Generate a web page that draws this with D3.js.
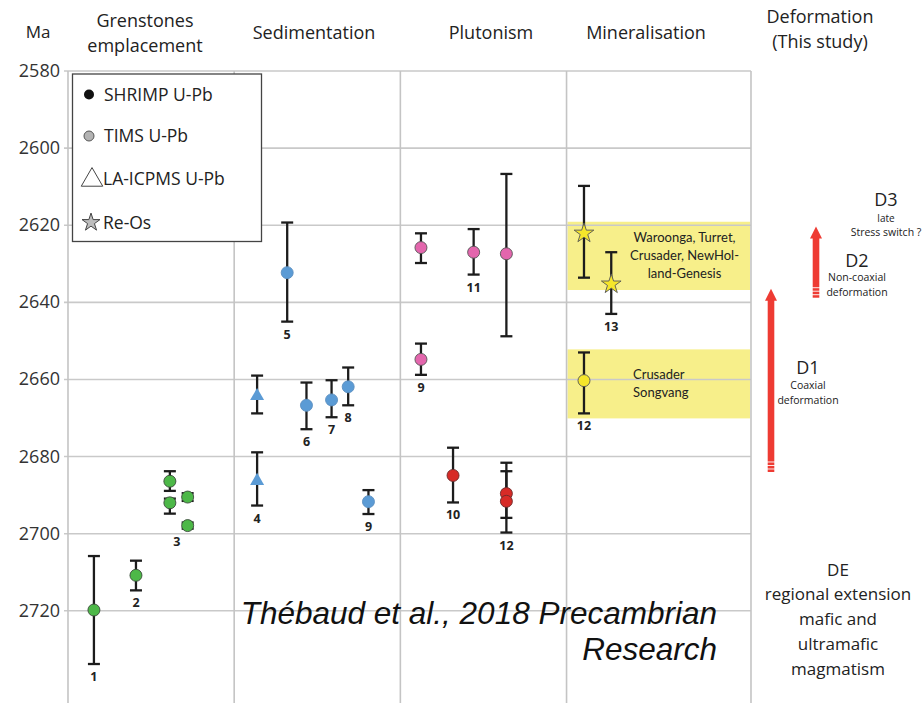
<!DOCTYPE html>
<html>
<head>
<meta charset="utf-8">
<script src="https://d3js.org/d3.v7.min.js"></script>
<style>
  body { margin: 0; background: #fff; }
  svg { display: block; }
  text { font-family: "Open Sans", "DejaVu Sans", sans-serif; fill: #222; }
</style>
</head>
<body>
<div id="chart"></div>
<script>
// y axis ticks (Ma)
var yTicks = [2580, 2600, 2620, 2640, 2660, 2680, 2700, 2720];

// column headers (one array of lines per column)
var headers = [["Grenstones", "emplacement"], ["Sedimentation"], ["Plutonism"], ["Mineralisation"], ["Deformation", "(This study)"]];
var colBounds = [0, 1, 2, 3, 4.11];

// each point: x in column units, age, error low / high
var greenstones = [
  { x: 0.156, age: 2719.8, lo: 14, hi: 14 },
  { x: 0.409, age: 2710.8, lo: 3.8, hi: 3.9 },
  { x: 0.613, age: 2686.4, lo: 2.6, hi: 2.5 },
  { x: 0.613, age: 2692.0, lo: 1.1, hi: 2.8 },
  { x: 0.720, age: 2690.5, lo: 1.0, hi: 1.0 },
  { x: 0.720, age: 2697.9, lo: 0.8, hi: 0.8 }
];
var sedTims = [
  { x: 1.319, age: 2632.3, lo: 13, hi: 12.7 },
  { x: 1.435, age: 2666.7, lo: 5.9, hi: 6.2 },
  { x: 1.586, age: 2665.3, lo: 5.1, hi: 4.5 },
  { x: 1.686, age: 2661.9, lo: 5.0, hi: 4.8 },
  { x: 1.808, age: 2691.7, lo: 3.0, hi: 3.2 }
];
var sedLa = [
  { x: 1.138, age: 2664.3, lo: 5.3, hi: 4.5 },
  { x: 1.138, age: 2686.3, lo: 7.4, hi: 6.4 }
];
var plutPink = [
  { x: 2.124, age: 2625.8, lo: 3.7, hi: 4.0 },
  { x: 2.124, age: 2654.8, lo: 4.1, hi: 4.0 },
  { x: 2.441, age: 2627.0, lo: 6.0, hi: 5.8 },
  { x: 2.638, age: 2627.4, lo: 20.7, hi: 21.4 }
];
var plutRed = [
  { x: 2.317, age: 2684.9, lo: 7.2, hi: 7.0 },
  { x: 2.638, age: 2689.6, lo: 8.0, hi: 6.3 },
  { x: 2.638, age: 2691.6, lo: 7.8, hi: 8.1 }
];
var minStars = [
  { x: 3.105, age: 2622.1, lo: 12.3, hi: 11.5 },
  { x: 3.269, age: 2635.3, lo: 8.3, hi: 7.7 }
];
var minCircle = [
  { x: 3.105, age: 2660.3, lo: 7.3, hi: 8.5 }
];

// sample numbers, anchored under their lowest error cap
var labels = [
  { t: "1", x: 0.156, age: 2733.8 }, { t: "2", x: 0.409, age: 2714.7 },
  { t: "3", x: 0.655, age: 2698.7 }, { t: "4", x: 1.138, age: 2692.7 },
  { t: "5", x: 1.319, age: 2645.0 }, { t: "6", x: 1.435, age: 2672.9 },
  { t: "7", x: 1.586, age: 2669.8 }, { t: "8", x: 1.686, age: 2666.7 },
  { t: "9", x: 1.808, age: 2694.9 }, { t: "9", x: 2.124, age: 2658.8 },
  { t: "10", x: 2.317, age: 2691.9 }, { t: "11", x: 2.441, age: 2632.8 },
  { t: "12", x: 2.638, age: 2699.7 }, { t: "13", x: 3.269, age: 2643.0 },
  { t: "12", x: 3.105, age: 2668.8 }
];

// mineralisation bands
var bands = [
  { from: 2619.1, to: 2636.8, lines: ["Waroonga, Turret,", "Crusader, NewHol-", "land-Genesis"], anchor: "middle", tx: 3.71 },
  { from: 2652.2, to: 2670.1, lines: ["Crusader", "Songvang"], anchor: "start", tx: 3.4 }
];

// deformation arrows (age of base, age of tip)
var arrows = [
  { name: "D1", from: 2684, to: 2636.5 },
  { name: "D2", from: 2638.8, to: 2620.3 }
];

var legendItems = ["SHRIMP U-Pb", "TIMS U-Pb", "LA-ICPMS U-Pb", "Re-Os"];

var W = 924, H = 703;
var left = 68, right = 751;

var svg = d3.select("#chart").append("svg").attr("width", W).attr("height", H);
svg.append("rect").attr("width", W).attr("height", H).attr("fill", "#fff");

var y = d3.scaleLinear().domain([2580, 2720]).range([71, 610.8]);
var x = d3.scaleLinear().domain([0, 4.11]).range([left, right]);

// yellow bands (under grid)
svg.selectAll(".band").data(bands).enter().append("rect")
  .attr("x", x(3) + 1).attr("width", x(4.11) - x(3) - 2)
  .attr("y", function(d) { return y(d.from); })
  .attr("height", function(d) { return y(d.to) - y(d.from); })
  .attr("fill", "#f7ef8a");

// grid
svg.append("g").selectAll("line").data(yTicks).enter().append("line")
  .attr("x1", left - 4).attr("x2", right)
  .attr("y1", function(d) { return y(d); }).attr("y2", function(d) { return y(d); })
  .attr("stroke", "#c9c9c9").attr("stroke-width", 1.6);
svg.append("g").selectAll("line").data(colBounds).enter().append("line")
  .attr("x1", function(d) { return x(d); }).attr("x2", function(d) { return x(d); })
  .attr("y1", y(2580)).attr("y2", H)
  .attr("stroke", "#c4c4c4").attr("stroke-width", 1.6);

// y tick labels
svg.append("g").selectAll("text").data(yTicks).enter().append("text")
  .attr("x", 60).attr("y", function(d) { return y(d) + 6; })
  .attr("text-anchor", "end").style("font-size", "18px").style("fill", "#333")
  .text(function(d) { return d; });

svg.append("text").attr("x", 38).attr("y", 38).attr("text-anchor", "middle")
  .style("font-size", "17px").text("Ma");

// headers
var hdrX = [145, 314, 491, 646, 820];
headers.forEach(function(lines, i) {
  var base = lines.length === 2 ? (i === 4 ? 23 : 27) : 39;
  lines.forEach(function(s, j) {
    svg.append("text").attr("x", hdrX[i]).attr("y", base + j * 25)
      .attr("text-anchor", "middle").style("font-size", "18px").text(s);
  });
});

// band texts
bands.forEach(function(b) {
  var n = b.lines.length;
  var mid = (y(b.from) + y(b.to)) / 2;
  b.lines.forEach(function(s, j) {
    svg.append("text").attr("x", x(b.tx))
      .attr("y", mid + (j - (n - 1) / 2) * 18 + 4.5)
      .attr("text-anchor", b.anchor)
      .style("font-family", "Lato, 'Open Sans', sans-serif")
      .style("font-size", "13px").text(s);
  });
});

// error bars
function errBars(data) {
  var g = svg.append("g").attr("stroke", "#1c1c1c").attr("stroke-width", 2.3);
  data.forEach(function(d) {
    var cx = x(d.x), y1 = y(d.age - d.lo), y2 = y(d.age + d.hi);
    g.append("line").attr("x1", cx).attr("x2", cx).attr("y1", y1).attr("y2", y2);
    g.append("line").attr("x1", cx - 6).attr("x2", cx + 6).attr("y1", y1).attr("y2", y1);
    g.append("line").attr("x1", cx - 6).attr("x2", cx + 6).attr("y1", y2).attr("y2", y2);
  });
}
[greenstones, sedTims, sedLa, plutPink, plutRed, minStars, minCircle].forEach(errBars);

function circles(data, fill, stroke) {
  svg.append("g").selectAll("circle").data(data).enter().append("circle")
    .attr("cx", function(d) { return x(d.x); }).attr("cy", function(d) { return y(d.age); })
    .attr("r", 6).attr("fill", fill).attr("stroke", stroke).attr("stroke-width", 0.9);
}
function symbols(data, type, size, fill, stroke) {
  svg.append("g").selectAll("path").data(data).enter().append("path")
    .attr("d", d3.symbol().type(type).size(size))
    .attr("transform", function(d) { return "translate(" + x(d.x) + "," + y(d.age) + ")"; })
    .attr("fill", fill).attr("stroke", stroke).attr("stroke-width", 0.9);
}
circles(greenstones, "#4db848", "#3a4a3a");
circles(sedTims, "#5b9bd5", "#5b8fc0");
symbols(sedLa, d3.symbolTriangle, 85, "#5b9bd5", "none");
circles(plutPink, "#e366ad", "#555");
circles(plutRed, "#d72b27", "#6a2a2a");
symbols(minStars, d3.symbolStar, 120, "#f5e62a", "#555");
circles(minCircle, "#f5e62a", "#555");

// sample numbers
svg.append("g").selectAll("text").data(labels).enter().append("text")
  .attr("x", function(d) { return x(d.x); }).attr("y", function(d) { return y(d.age) + 17; })
  .attr("text-anchor", "middle").style("font-size", "12.5px").style("font-weight", "bold")
  .text(function(d) { return d.t; });

// legend
var lg = svg.append("g");
lg.append("rect").attr("x", 72.5).attr("y", 74).attr("width", 189).attr("height", 167.5)
  .attr("fill", "#fff").attr("stroke", "#444").attr("stroke-width", 1.3);
var lgY = [94.5, 136, 179, 222.5];
lg.append("circle").attr("cx", 89).attr("cy", lgY[0]).attr("r", 5).attr("fill", "#111");
lg.append("circle").attr("cx", 89).attr("cy", lgY[1]).attr("r", 5).attr("fill", "#b3b3b3").attr("stroke", "#555");
lg.append("path").attr("d", d3.symbol().type(d3.symbolTriangle).size(200))
  .attr("transform", "translate(92," + (lgY[2] + 1) + ")").attr("fill", "#fff").attr("stroke", "#444").attr("stroke-width", 1);
lg.append("path").attr("d", d3.symbol().type(d3.symbolStar).size(100))
  .attr("transform", "translate(91," + lgY[3] + ")").attr("fill", "#bdbdbd").attr("stroke", "#444").attr("stroke-width", 1);
lg.selectAll("text").data(legendItems).enter().append("text")
  .attr("x", function(d, i) { return i >= 2 ? 103 : 104; })
  .attr("y", function(d, i) { return lgY[i] + 6; })
  .style("font-size", "17.5px").text(function(d) { return d; });

// deformation arrows
var arrowX = [771, 816];
arrows.forEach(function(a, i) {
  var cx = arrowX[i], yb = y(a.from), yt = y(a.to);
  var g = svg.append("g");
  g.append("rect").attr("x", cx - 3.3).attr("width", 6.6).attr("y", yt + 10).attr("height", yb - yt - 10).attr("fill", "#ee3b33");
  g.append("path").attr("d", "M" + (cx - 6) + "," + (yt + 12) + "L" + cx + "," + yt + "L" + (cx + 6) + "," + (yt + 12) + "Z").attr("fill", "#ee3b33");
  [3, 6.5, 10].forEach(function(o) {
    g.append("line").attr("x1", cx - 4).attr("x2", cx + 4).attr("y1", yb - o).attr("y2", yb - o)
      .attr("stroke", "#fff").attr("stroke-width", 0.9);
  });
});

function block(lines, cx, y0, sizes) {
  lines.forEach(function(s, j) {
    svg.append("text").attr("x", cx).attr("y", y0[j]).attr("text-anchor", "middle")
      .style("font-size", sizes[j] + "px").text(s);
  });
}
block(["D3", "late", "Stress switch ?"], 886, [206, 222, 236], [18, 10, 10.5]);
block(["D2", "Non-coaxial", "deformation"], 857, [267, 281, 296], [18, 10.5, 10.5]);
block(["D1", "Coaxial", "deformation"], 808, [374, 389, 404], [18, 10.5, 10.5]);
block(["DE", "regional extension", "mafic and", "ultramafic", "magmatism"], 838,
  [576, 600, 625, 650, 675], [17, 17, 17, 17, 17]);

// citation
svg.append("text").attr("x", 717).attr("y", 624).attr("text-anchor", "end")
  .style("font-family", "'Liberation Sans', Arial, sans-serif").style("font-style", "italic")
  .style("font-size", "31.5px").style("fill", "#111").text("Thébaud et al., 2018 Precambrian");
svg.append("text").attr("x", 717).attr("y", 660).attr("text-anchor", "end")
  .style("font-family", "'Liberation Sans', Arial, sans-serif").style("font-style", "italic")
  .style("font-size", "31.5px").style("fill", "#111").text("Research");
</script>
</body>
</html>
